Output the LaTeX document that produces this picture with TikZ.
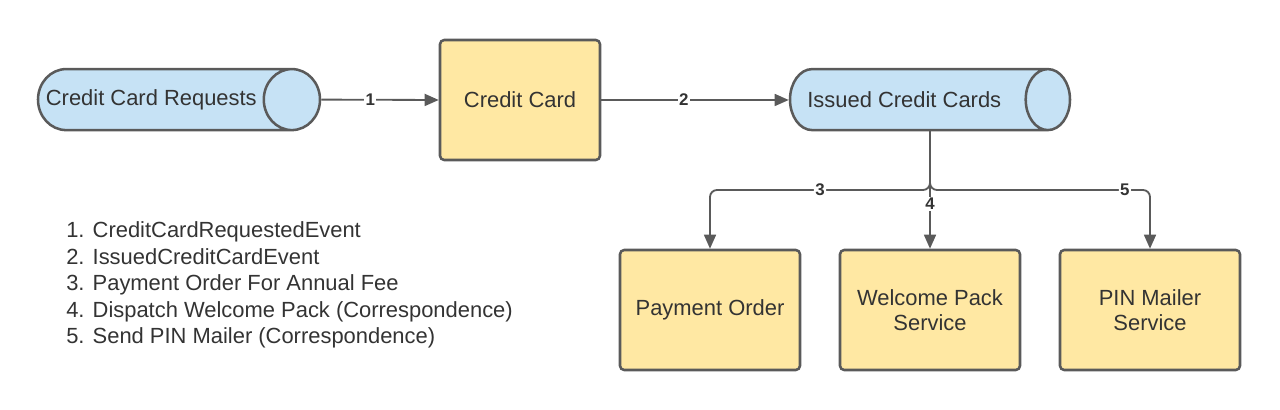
\documentclass[tikz,border=0pt]{standalone}
\usepackage{fontspec}
\setmainfont{Liberation Sans}
\usetikzlibrary{positioning,shapes.geometric,arrows.meta}

\definecolor{topicblue}{HTML}{C6E2F5}
\definecolor{serviceyellow}{HTML}{FFE8A3}
\definecolor{linegray}{HTML}{5A5A5A}
\definecolor{textgray}{HTML}{333333}

\begin{document}
\begin{tikzpicture}[every node/.style={text=textgray, font=\fontsize{15.6}{18}\selectfont},
topic/.style={cylinder, shape border rotate=0, aspect=2.75, draw=linegray, line width=1.8pt,
  cylinder uses custom fill, cylinder body fill=topicblue, cylinder end fill=topicblue,
  minimum height=7.0cm, minimum width=1.525cm, inner ysep=0pt, inner xsep=-0.6cm},
service/.style={rectangle, rounded corners=3pt, draw=linegray, line width=1.8pt, fill=serviceyellow,
  align=center, minimum width=4.5cm, minimum height=3cm},
flow/.style={draw=linegray, line width=1.3pt, -{Triangle[length=10pt,width=8.5pt]}},
num/.style={fill=white, inner sep=1pt, font=\bfseries\fontsize{12}{14}\selectfont},
legend/.style={anchor=base west, inner sep=0pt}]

\useasboundingbox (0,0) rectangle (32,10.25);

\node[topic, anchor=shape center, minimum height=7.05cm] (requests) at (4.475,7.76) {Credit Card Requests\kern0.65cm};
\node[service, minimum width=4cm] (card) at (13.0,7.75) {Credit Card};
\node[topic, anchor=shape center] (issued) at (23.25,7.76) {Issued Credit Cards\kern0.7cm};

\node[service] (payment) at (17.75,2.5) {Payment Order};
\node[service] (welcome) at (23.25,2.5) {Welcome Pack\\Service};
\node[service] (pin)     at (28.75,2.5) {PIN Mailer\\Service};

\coordinate (split) at (23.25,5.5);

\draw[flow] (requests.east) -- node[num, pos=0.417]{1} (card.west);
\draw[flow] (card.east) -- node[num, pos=0.44]{2} (issued.west |- card.east);
\draw[flow, rounded corners=5pt] (welcome.north |- issued.south) -- (split) -| node[num, pos=0.25]{3} (payment.north);
\draw[flow, rounded corners=5pt] (welcome.north |- issued.south) -- (split) -| node[num, pos=0.443]{5} (pin.north);
\draw[flow] (welcome.north |- issued.south) -- node[num, pos=0.617]{4} (welcome.north);

% legend
\node[legend] (leg1) at (1.65,4.3)    {1. CreditCardRequestedEvent};
\node[legend] (leg2) at (1.65,3.6375) {2. IssuedCreditCardEvent};
\node[legend] (leg3) at (1.65,2.975)  {3. Payment Order For Annual Fee};
\node[legend] (leg4) at (1.65,2.3125) {4. Dispatch Welcome Pack (Correspondence)};
\node[legend] (leg5) at (1.65,1.65)   {5. Send PIN Mailer (Correspondence)};

\end{tikzpicture}
\end{document}
